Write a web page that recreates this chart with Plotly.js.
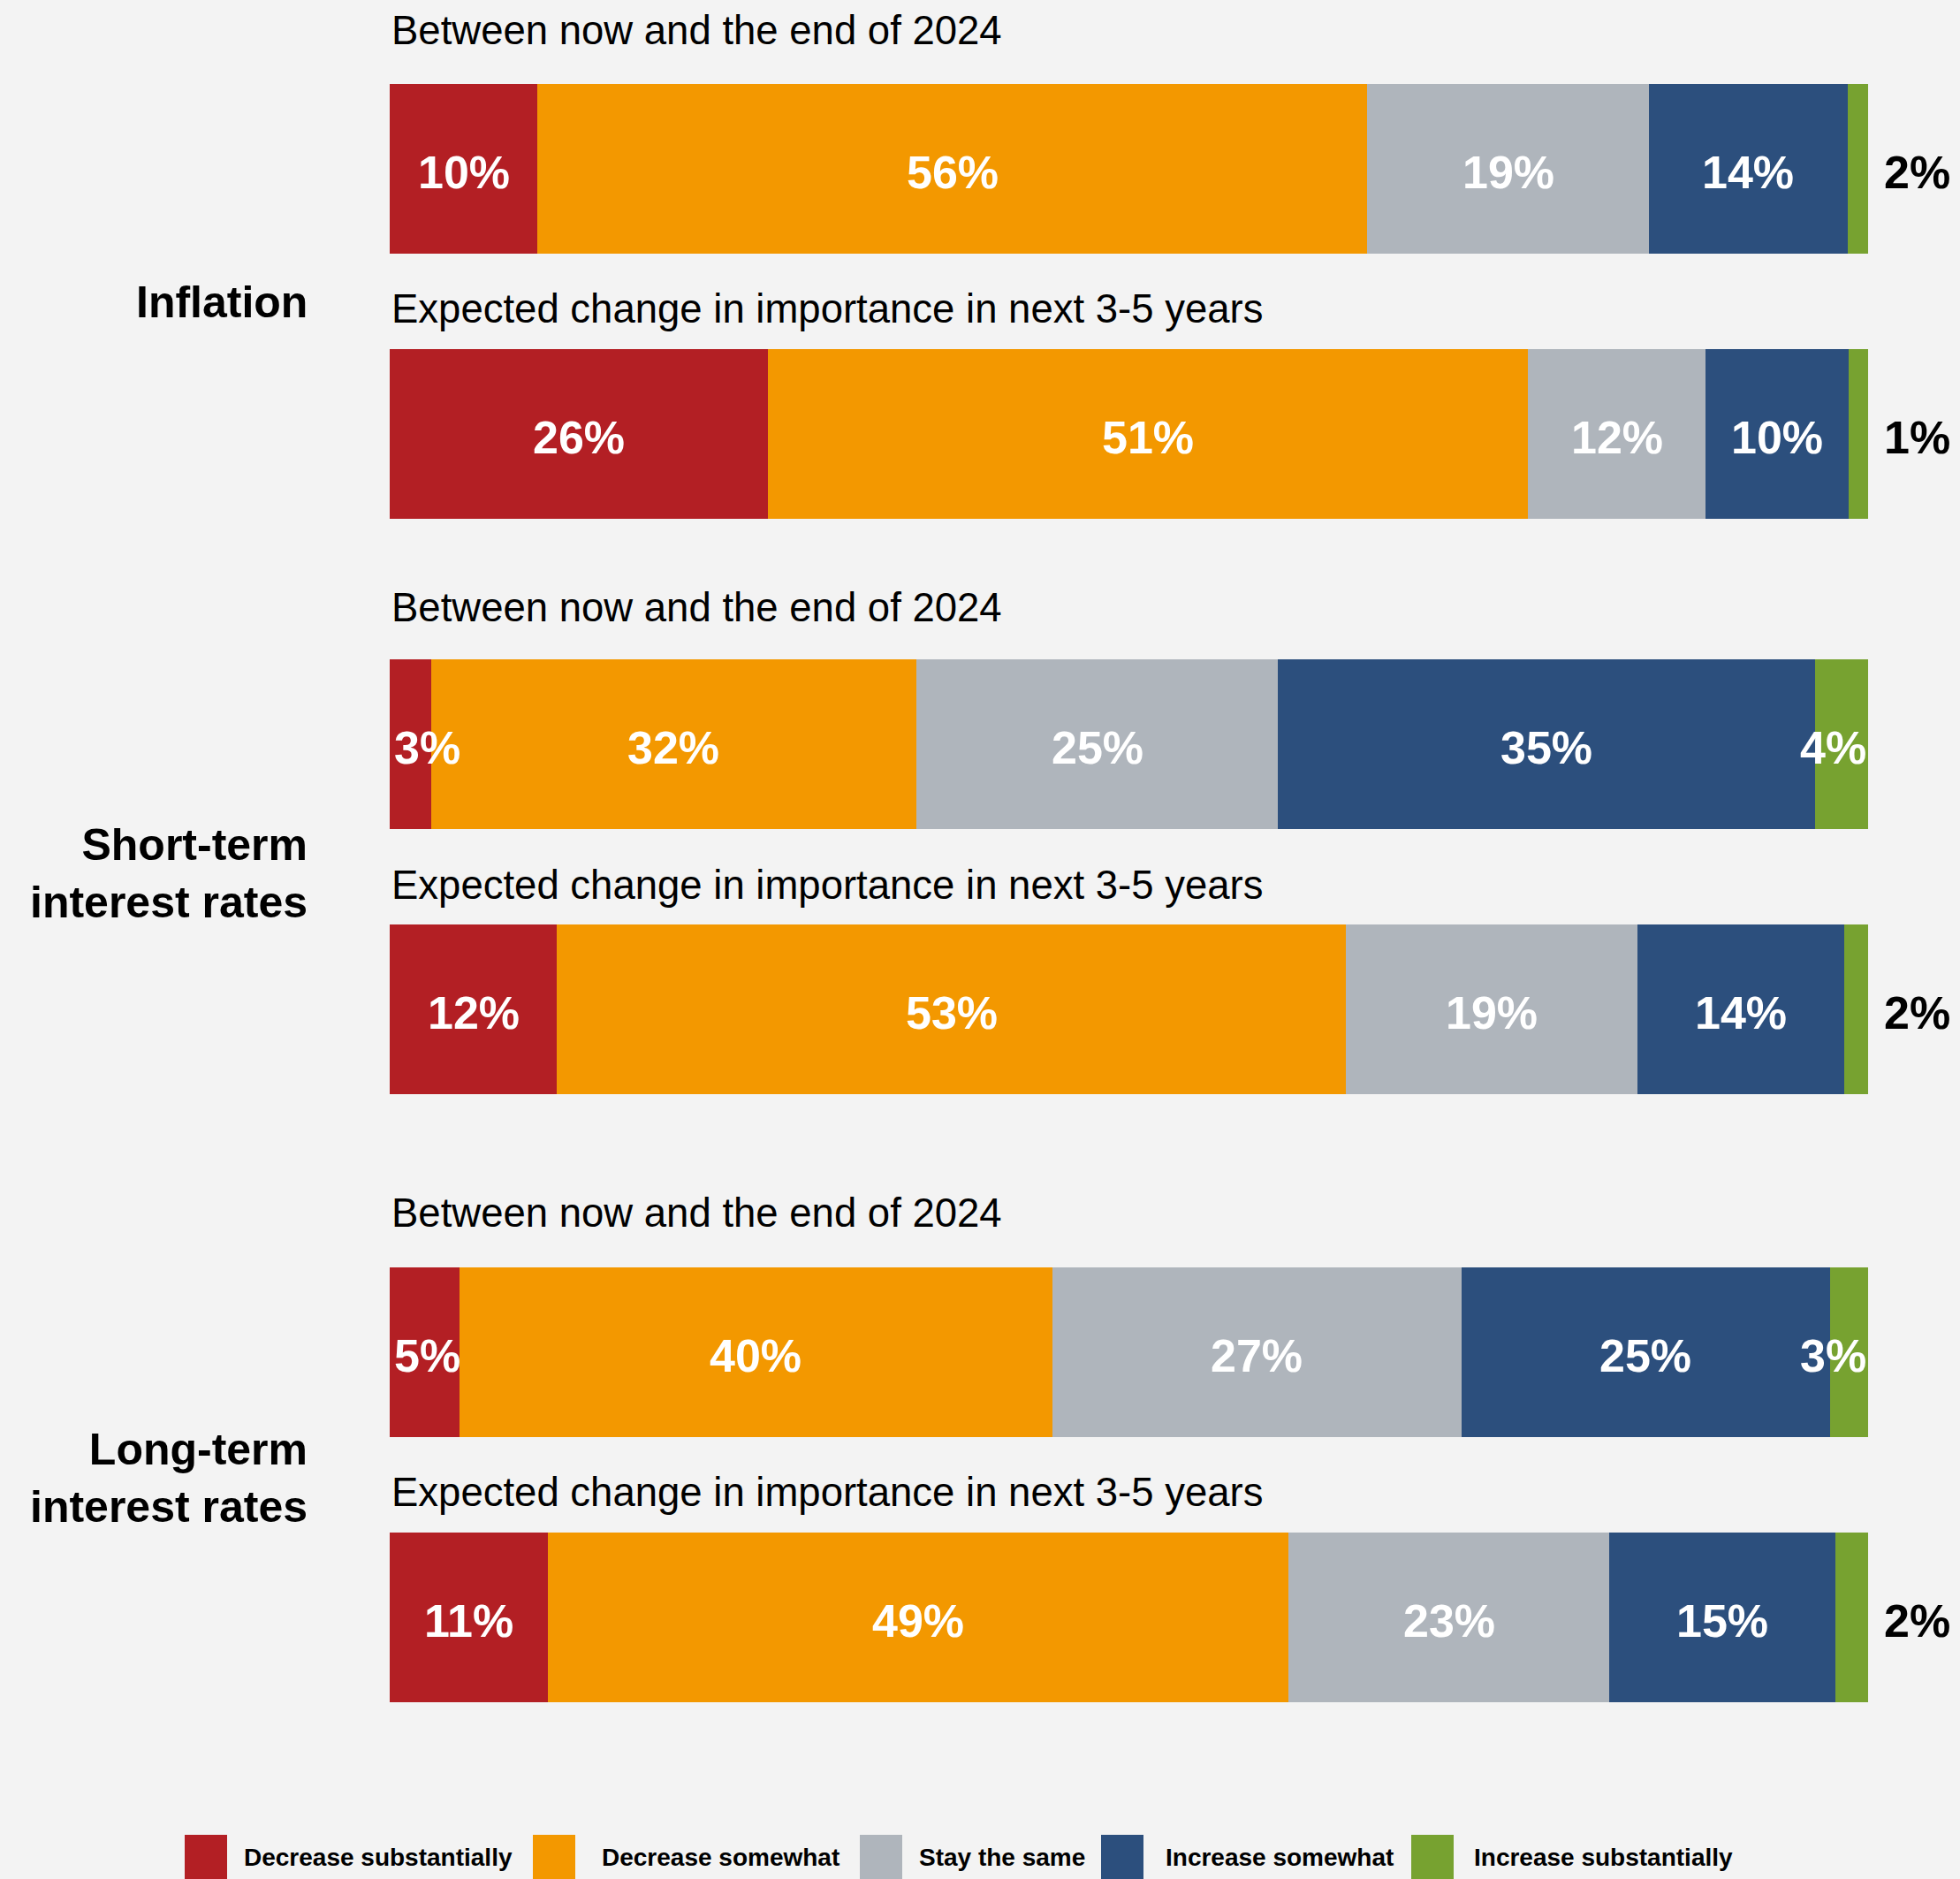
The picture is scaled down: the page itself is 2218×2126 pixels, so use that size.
<!DOCTYPE html>
<html>
<head>
<meta charset="utf-8">
<script src="https://cdn.plot.ly/plotly-3.0.1.min.js"></script>
<style>
  html, body { margin: 0; padding: 0; background: #f3f3f3; }
  #chart { width: 2218px; height: 2126px; }
</style>
</head>
<body>
<div id="chart"></div>
<script>
// ---------- DATA ----------
const groups = ["Inflation", "Short-term<br>interest rates", "Long-term<br>interest rates"];
const categories = ["Between now and the end of 2024", "Expected change in importance in next 3-5 years"];
const seriesNames = ["Decrease substantially", "Decrease somewhat", "Stay the same", "Increase somewhat", "Increase substantially"];

// values per group: [between now and end of 2024, next 3-5 years]
const decreaseSubstantially = [[10.0, 25.6], [2.8, 11.3], [4.7, 10.7]];
const decreaseSomewhat      = [[56.1, 51.4], [32.8, 53.4], [40.1, 50.1]];
const stayTheSame           = [[19.1, 12.0], [24.5, 19.7], [27.7, 21.7]];
const increaseSomewhat      = [[13.4, 9.7], [36.3, 14.0], [24.9, 15.3]];
const increaseSubstantially = [[1.4, 1.3], [3.6, 1.6], [2.6, 2.2]];

// printed labels
const decreaseSubstantiallyLabels = [["10%", "26%"], ["3%", "12%"], ["5%", "11%"]];
const decreaseSomewhatLabels      = [["56%", "51%"], ["32%", "53%"], ["40%", "49%"]];
const stayTheSameLabels           = [["19%", "12%"], ["25%", "19%"], ["27%", "23%"]];
const increaseSomewhatLabels      = [["14%", "10%"], ["35%", "14%"], ["25%", "15%"]];
const increaseSubstantiallyLabels = [["2%", "1%"], ["4%", "2%"], ["3%", "2%"]];

const colors = ["#b31f24", "#f39800", "#afb5bc", "#2c4f7d", "#77a230"];

// ---------- LAYOUT HELPERS ----------
const W = 2218, H = 2126;
const FONT = "Liberation Sans, Arial, Helvetica, sans-serif";
const px2x = p => p / W;
const px2y = p => 1 - p / H;

const seriesValues = [decreaseSubstantially, decreaseSomewhat, stayTheSame, increaseSomewhat, increaseSubstantially];
const seriesLabels = [decreaseSubstantiallyLabels, decreaseSomewhatLabels, stayTheSameLabels, increaseSomewhatLabels, increaseSubstantiallyLabels];

const xDomain = [px2x(441), px2x(2114)];
// vertical pixel span of each group's axis (top, bottom)
const groupSpans = [[40.5, 640.5], [692, 1292], [1380, 1980]];
const groupLabelY = [342, 988, 1672];
const subtitleY = [[34, 349.4], [687.4, 1001.5], [1372.1, 1688.9]];

const OUTSIDE_LIMIT = 2.4;   // last segment narrower than this -> label outside (black)
const NARROW_FIRST = 6;      // first segment narrower than this -> label starts at bar start

const traces = [];
const annotations = [];
groups.forEach((g, gi) => {
  const sfx = gi === 0 ? "" : String(gi + 1);
  // bars
  seriesNames.forEach((name, si) => {
    traces.push({
      type: "bar",
      orientation: "h",
      name: name,
      x: seriesValues[si][gi],
      y: categories,
      xaxis: "x" + sfx,
      yaxis: "y" + sfx,
      marker: { color: colors[si], line: { width: 0 } },
      hoverinfo: "skip",
      showlegend: false
    });
  });
  // value labels, placed on the stacked bar positions
  categories.forEach((c, ci) => {
    let start = 0;
    seriesNames.forEach((name, si) => {
      const v = seriesValues[si][gi][ci];
      const lab = seriesLabels[si][gi][ci];
      const end = start + v;
      const isFirst = si === 0, isLast = si === seriesNames.length - 1;
      let x, anchor, xshift = 0, color = "#ffffff";
      if (isLast && v < OUTSIDE_LIMIT) {
        x = end; anchor = "left"; xshift = 16; color = "#000000";
      } else if (isLast) {
        x = end; anchor = "right"; xshift = 0;
      } else if (isFirst && v < NARROW_FIRST) {
        x = start; anchor = "left"; xshift = 3;
      } else {
        x = start + v / 2; anchor = "center";
      }
      annotations.push({
        text: lab, x: x, y: c,
        xref: "x" + sfx, yref: "y" + sfx,
        xanchor: anchor, yanchor: "middle",
        xshift: xshift, yshift: -4,
        showarrow: false,
        font: { family: FONT, size: 52, color: color, weight: "bold" }
      });
      start = end;
    });
  });
});

const layout = {
  width: W,
  height: H,
  margin: { l: 0, r: 0, t: 0, b: 0, pad: 0 },
  paper_bgcolor: "#f3f3f3",
  plot_bgcolor: "#f3f3f3",
  barmode: "stack",
  bargap: 0.36,
  showlegend: false,
  font: { family: FONT, color: "#000000" },
  annotations: annotations,
  shapes: []
};

groups.forEach((g, gi) => {
  const sfx = gi === 0 ? "" : String(gi + 1);
  const span = groupSpans[gi];
  layout["xaxis" + sfx] = {
    domain: xDomain, range: [0, 100], visible: false, fixedrange: true,
    anchor: "y" + sfx
  };
  layout["yaxis" + sfx] = {
    domain: [px2y(span[1]), px2y(span[0])],
    type: "category",
    categoryorder: "array",
    categoryarray: categories,
    range: [1.5, -0.5],
    visible: false, fixedrange: true,
    anchor: "x" + sfx
  };
  // group label
  layout.annotations.push({
    text: g, xref: "paper", yref: "paper",
    x: px2x(350), y: px2y(groupLabelY[gi]),
    xanchor: "right", yanchor: "middle", align: "right",
    showarrow: false,
    font: { family: FONT, size: 50, color: "#000000", weight: "bold" }
  });
  // subtitles
  categories.forEach((c, ci) => {
    layout.annotations.push({
      text: c, xref: "paper", yref: "paper",
      x: px2x(441), y: px2y(subtitleY[gi][ci]),
      xanchor: "left", yanchor: "middle", align: "left",
      showarrow: false,
      font: { family: FONT, size: 45.5, color: "#000000" }
    });
  });
});

// custom legend (large swatches)
const legendSwatchX = [209, 603, 973, 1246, 1597];
const legendTextX = [274, 679, 1038, 1317, 1666];
seriesNames.forEach((n, i) => {
  layout.shapes.push({
    type: "rect", xref: "paper", yref: "paper",
    x0: px2x(legendSwatchX[i]), x1: px2x(legendSwatchX[i] + 48),
    y0: px2y(2126), y1: px2y(2076),
    fillcolor: colors[i], line: { width: 0 }
  });
  layout.annotations.push({
    text: n, xref: "paper", yref: "paper",
    x: px2x(legendTextX[i]), y: px2y(2101),
    xanchor: "left", yanchor: "middle", showarrow: false,
    font: { family: FONT, size: 28, color: "#000000", weight: "bold" }
  });
});

Plotly.newPlot("chart", traces, layout, { displayModeBar: false, staticPlot: true });
</script>
</body>
</html>
